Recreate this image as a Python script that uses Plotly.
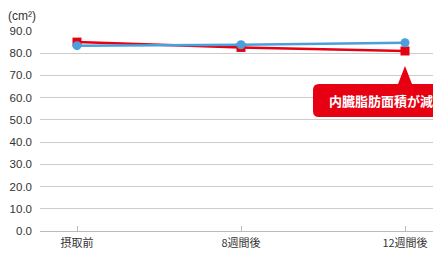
import plotly.graph_objects as go

categories = ["摂取前", "8週間後", "12週間後"]
red_values = [85.0, 82.6, 81.0]
blue_values = [83.4, 83.8, 84.7]
y_ticks = [0, 10, 20, 30, 40, 50, 60, 70, 80, 90]
unit_label = "(cm²)"
callout_text = "内臓脂肪面積が減"

JP = "Noto Sans CJK JP"
NUM = "Liberation Sans, Noto Sans CJK JP"

W, H = 433, 254
ML, MR, MT, MB = 40, 0, 31, 23
XR = [-0.2256, 2.1707]
YR = [0, 90]
pw, ph = W - ML - MR, H - MT - MB

def px2x(px):
    return XR[0] + (px - ML) / pw * (XR[1] - XR[0])

def px2y(py):
    return YR[0] + (H - MB - py) / ph * (YR[1] - YR[0])

xs = list(range(len(categories)))

fig = go.Figure()
fig.add_trace(go.Scatter(x=xs, y=red_values, mode="lines+markers",
                         line=dict(color="#e60012", width=2.5),
                         marker=dict(symbol="square", size=9, color="#e60012"),
                         cliponaxis=False))
fig.add_trace(go.Scatter(x=xs, y=blue_values, mode="lines+markers",
                         line=dict(color="#4b9fdc", width=2.5),
                         marker=dict(symbol="circle", size=9, color="#4b9fdc"),
                         cliponaxis=False))

# callout box with pointer
l, r, t, b, rad = 313, 445, 84, 117, 6
ax, ay = 405, 66
def P(px, py):
    return f"{px2x(px):.5f},{px2y(py):.5f}"
path = (f"M {P(l+rad, t)} L {P(ax-7, t)} L {P(ax, ay)} L {P(ax+7, t)} L {P(r-rad, t)} "
        f"Q {P(r, t)} {P(r, t+rad)} L {P(r, b-rad)} Q {P(r, b)} {P(r-rad, b)} "
        f"L {P(l+rad, b)} Q {P(l, b)} {P(l, b-rad)} L {P(l, t+rad)} Q {P(l, t)} {P(l+rad, t)} Z")
fig.add_shape(type="path", path=path, xref="x", yref="y",
              fillcolor="#e60012", line=dict(width=0), layer="above")
fig.add_annotation(x=px2x(327), y=px2y(100.5), xref="x", yref="y", text=f"<b>{callout_text}</b>",
                   showarrow=False, xanchor="left", yanchor="middle",
                   font=dict(family=JP, size=13, color="white"))
fig.add_annotation(x=(6 - ML) / pw, y=(H - MB - 16) / ph, xref="paper", yref="paper",
                   text=unit_label, showarrow=False, xanchor="left", yanchor="middle",
                   font=dict(family=NUM, size=12, color="#333"))

fig.update_layout(
    width=W, height=H, margin=dict(l=ML, r=MR, t=MT, b=MB, autoexpand=False),
    paper_bgcolor="white", plot_bgcolor="white", showlegend=False,
    xaxis=dict(range=XR, tickvals=xs, ticktext=categories, showgrid=False,
               showline=False, zeroline=False, ticks="inside", ticklen=5,
               tickcolor="#bbbbbb", tickfont=dict(family=JP, size=11, color="#333"),
               ticklabelstandoff=4, automargin=False),
    yaxis=dict(range=YR, tickvals=y_ticks, tickformat=".1f", showgrid=True,
               gridcolor="#cccccc", gridwidth=1, zeroline=True, zerolinecolor="#bbbbbb",
               zerolinewidth=1, showline=False, ticks="",
               tickfont=dict(family=NUM, size=11.5, color="#333"), ticklabelstandoff=7,
               automargin=False),
)
fig.write_html("out.html", config={"displayModeBar": False},
               post_script="document.body.style.margin='0px';")
